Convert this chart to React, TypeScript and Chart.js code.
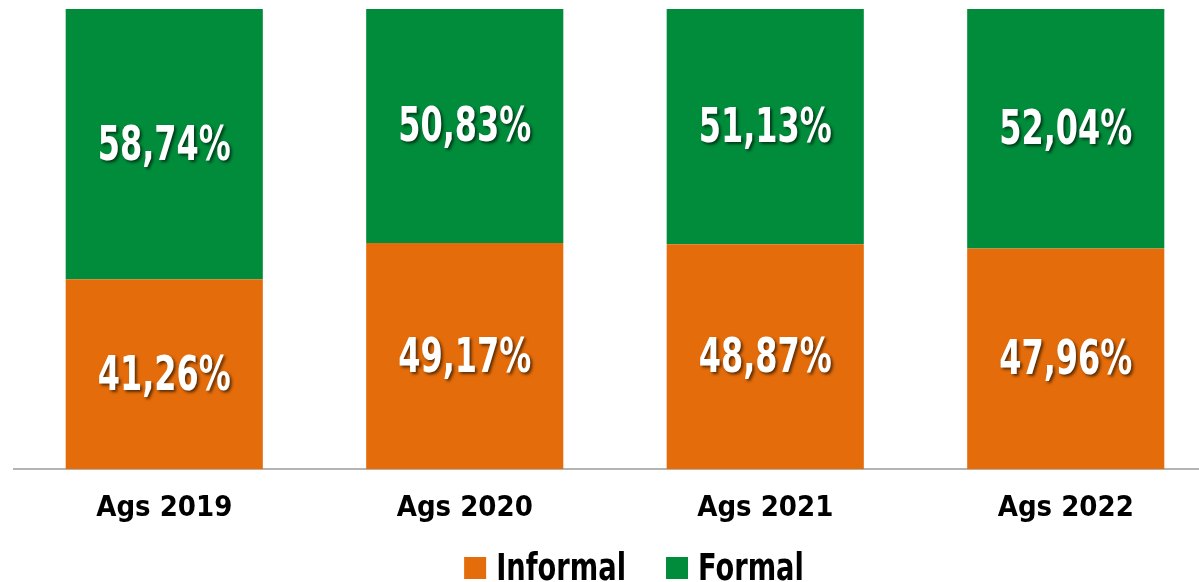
import React, { useEffect, useRef } from "react";
import { Chart, registerables } from "chart.js";

Chart.register(...registerables);

const categories = ["Ags 2019", "Ags 2020", "Ags 2021", "Ags 2022"];
const informal = [41.26, 49.17, 48.87, 47.96];
const formal = [58.74, 50.83, 51.13, 52.04];
const seriesNames = ["Informal", "Formal"];
const seriesColors = ["#E46C0A", "#008C3A"];

const FONT = "'Liberation Sans Narrow', 'DejaVu Sans Condensed', 'Roboto', sans-serif";

const fmt = (v: number) => v.toFixed(2).replace(".", ",") + "%";

const valueLabels = {
  id: "valueLabels",
  afterDatasetsDraw(chart: any) {
    const ctx = chart.ctx;
    const sx = 0.74;
    chart.data.datasets.forEach((ds: any, di: number) => {
      const meta = chart.getDatasetMeta(di);
      meta.data.forEach((bar: any, i: number) => {
        const y = (bar.y + bar.base) / 2 + 3;
        ctx.save();
        ctx.font = `bold 48px ${FONT}`;
        ctx.textAlign = "center";
        ctx.textBaseline = "middle";
        ctx.translate(bar.x, y);
        ctx.scale(sx, 1);
        ctx.shadowColor = "rgba(0,0,0,0.6)";
        ctx.shadowOffsetX = 2;
        ctx.shadowOffsetY = 2;
        ctx.shadowBlur = 3;
        ctx.fillStyle = "#ffffff";
        ctx.fillText(fmt(ds.data[i]), 0, 0);
        ctx.restore();
      });
    });
  },
};

const customLegend = {
  id: "customLegend",
  afterDraw(chart: any) {
    const ctx = chart.ctx;
    const sx = 0.82;
    const box = 22;
    const gapText = 10;
    const gapItem = 40;
    const baseline = 580;
    ctx.save();
    ctx.font = `bold 37px ${FONT}`;
    const items = chart.data.datasets.map((ds: any) => ({
      label: ds.label,
      color: ds.backgroundColor,
      w: ctx.measureText(ds.label).width * sx,
    }));
    const total = items.reduce((s: number, it: any) => s + box + gapText + it.w, 0) + gapItem * (items.length - 1);
    let x = 634 - total / 2;
    items.forEach((it: any) => {
      ctx.fillStyle = it.color;
      ctx.fillRect(x, baseline - 23, box, box);
      x += box + gapText;
      ctx.save();
      ctx.translate(x, baseline);
      ctx.scale(sx, 1);
      ctx.fillStyle = "#000";
      ctx.textAlign = "left";
      ctx.textBaseline = "alphabetic";
      ctx.fillText(it.label, 0, 0);
      ctx.restore();
      x += it.w + gapItem;
    });
    ctx.restore();
  },
};

export default function App() {
  const ref = useRef<HTMLCanvasElement>(null);
  useEffect(() => {
    if (!ref.current) return;
    const chart = new Chart(ref.current, {
      type: "bar",
      data: {
        labels: categories,
        datasets: [
          { label: seriesNames[0], data: informal, backgroundColor: seriesColors[0], borderWidth: 0 },
          { label: seriesNames[1], data: formal, backgroundColor: seriesColors[1], borderWidth: 0 },
        ],
      },
      options: {
        animation: false,
        responsive: false,
        maintainAspectRatio: false,
        layout: { padding: { left: 14, right: 0, top: 9, bottom: 60 } },
        datasets: { bar: { categoryPercentage: 1, barPercentage: 0.656 } },
        scales: {
          x: {
            stacked: true,
            grid: { display: false },
            border: { display: true, color: "#b4b4b4", width: 2 },
            ticks: { color: "#000", font: { family: FONT, size: 29, weight: "bold" }, padding: 14 },
          },
          y: { stacked: true, display: false, min: 0, max: 100 },
        },
        plugins: {
          legend: { display: false },
          tooltip: { enabled: false },
        },
      },
      plugins: [valueLabels, customLegend],
    });
    return () => chart.destroy();
  }, []);
  return (
    <div style={{ position: "fixed", left: 0, top: 0, width: 1199, height: 582, overflow: "hidden", background: "#fff" }}>
      <canvas ref={ref} width={1216} height={600} style={{ display: "block" }} />
    </div>
  );
}
